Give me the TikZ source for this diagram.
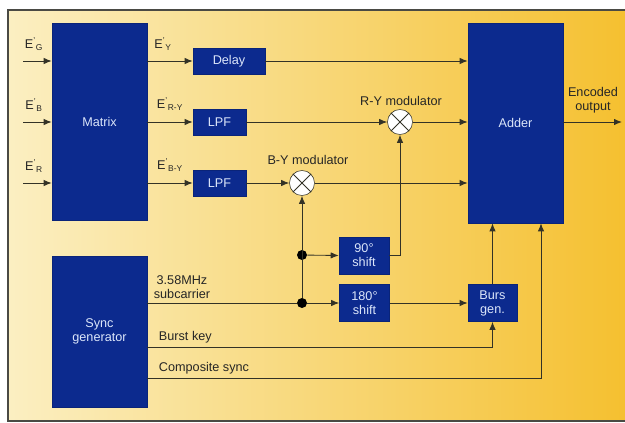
\documentclass[tikz,border=0pt]{standalone}
\usepackage{fontspec}
\setmainfont{Liberation Sans}
\usetikzlibrary{arrows.meta, positioning, calc}
\definecolor{PanelCream}{HTML}{FBEFC2}
\definecolor{PanelMid}{HTML}{F9DC86}
\definecolor{PanelGold}{HTML}{F5C030}
\definecolor{BlockNavy}{HTML}{0C2A8E}
\definecolor{BlockText}{HTML}{DCE6FA}
\definecolor{WireDark}{HTML}{333226}
\definecolor{FrameGrey}{HTML}{4A4A44}
\tikzset{
    % Node styles
    bigblock/.style={
        rectangle,
        fill=BlockNavy,
        draw=BlockNavy!85!black,
        minimum width=2.375cm,
        inner sep=0pt,
        text=BlockText,
        align=center,
        font=\fontsize{9}{10}\selectfont
    },
    smallblock/.style={
        rectangle,
        fill=BlockNavy,
        draw=BlockNavy!85!black,
        minimum height=0.65cm,
        inner sep=0pt,
        text=BlockText,
        align=center,
        font=\fontsize{9}{10}\selectfont
    },
    mixer/.style={
        circle,
        draw=WireDark,
        fill=white,
        minimum size=0.625cm,
        inner sep=0pt
    },
    junction/.style={
        circle,
        fill=black,
        minimum size=0.25cm,
        inner sep=0pt
    },
    sigtext/.style={
        text=black!85,
        align=center,
        font=\fontsize{9}{10}\selectfont
    },
    % Arrow styles
    sigarrow/.style={
        -{Latex[length=2mm,width=1.6mm]},
        WireDark,
        line width=0.6pt
    },
    sigline/.style={
        WireDark,
        line width=0.6pt
    }
}
\begin{document}
\begin{tikzpicture}[x=0.025cm, y=-0.025cm]
    % Panel
    \useasboundingbox (0,0) rectangle (625,422);
    \shade[left color=PanelCream, middle color=PanelMid, right color=PanelGold] (8,10) rectangle (625,421);
    \draw[FrameGrey, line width=0.8pt] (625,10) -- (8,10) -- (8,421) -- (625,421);

    % Blocks
    \node[bigblock, minimum height=4.925cm] (matrixblk) at (99.5,121.5) {Matrix};
    \node[bigblock, minimum height=3.775cm] (syncgen) at (99.5,331.5) {Sync\\generator};
    \node[bigblock, minimum height=5cm] (adder) at (515.5,123) {Adder};
    \node[smallblock, minimum width=1.8cm] (delay) at (229,61) {Delay};
    \node[smallblock, minimum width=1.325cm] (lpfry) at (219.5,122) {LPF};
    \node[smallblock, minimum width=1.325cm] (lpfby) at (219.5,183) {LPF};
    \node[smallblock, minimum width=1.25cm, minimum height=0.925cm] (shiftA) at (364,255.5) {90°\\shift};
    \node[smallblock, minimum width=1.25cm, minimum height=0.925cm] (shiftB) at (364.5,303) {180°\\shift};
    \node[smallblock, minimum width=1.225cm, minimum height=0.925cm] (burst) at (492.5,303) {Burs\\gen.};

    % Modulators
    \node[mixer] (modry) at (400,122) {};
    \node[mixer] (modby) at (302,183) {};
    \foreach \m in {modry, modby}
        \draw[sigline] (\m.north west) -- (\m.south east) (\m.north east) -- (\m.south west);

    % Junctions and free ends
    \node[junction] (jup) at (302,255) {};
    \node[junction] (jlow) at (302,303) {};
    \coordinate (encout) at (622,122);
    \coordinate (bkey) at ($(syncgen.east)+(0,15.5)$);
    \coordinate (csync) at ($(syncgen.east)+(0,46.5)$);
    \coordinate (csyncin) at ($(adder.south)+(25.5,0)$);

    % Inputs
    \foreach \n/\y in {G/61, B/122, R/183} {
        \coordinate (in\n) at (23,\y);
        \draw[sigarrow] (in\n) -- (in\n -| matrixblk.west);
        \node[sigtext] (lbl\n) at (34,\y-17) {E\textsuperscript{'}\textsubscript{\n}};
    }

    % Labels
    \node[sigtext] (lblY) at (163,44) {E\textsuperscript{'}\textsubscript{Y}};
    \node[sigtext] (lblRY) at (170,104) {E\textsuperscript{'}\textsubscript{R-Y}};
    \node[sigtext] (lblBY) at (170,165) {E\textsuperscript{'}\textsubscript{B-Y}};
    \node[sigtext] (lblmodby) at (308,160) {B-Y modulator};
    \node[sigtext] (lblmodry) at (401,101) {R-Y modulator};
    \node[sigtext] (lblout) at (593,100) {Encoded\\output};
    \node[sigtext] (lblsub) at (182,287) {3.58MHz\\subcarrier};
    \node[sigtext, anchor=west] (lblbk) at (154,337) {Burst key};
    \node[sigtext, anchor=west] (lblcs) at (154,368) {Composite sync};

    % Luminance and colour difference paths
    \draw[sigarrow] (delay.west -| matrixblk.east) -- (delay.west);
    \draw[sigarrow] (lpfry.west -| matrixblk.east) -- (lpfry.west);
    \draw[sigarrow] (lpfby.west -| matrixblk.east) -- (lpfby.west);
    \draw[sigarrow] (delay.east) -- (delay.east -| adder.west);
    \draw[sigarrow] (lpfry.east) -- (modry.west);
    \draw[sigarrow] (modry.east) -- (modry.east -| adder.west);
    \draw[sigarrow] (lpfby.east) -- (modby.west);
    \draw[sigarrow] (modby.east) -- (modby.east -| adder.west);
    \draw[sigarrow] (encout -| adder.east) -- (encout);

    % Subcarrier and sync paths
    \draw[sigline] (jlow -| syncgen.east) -- (jlow);
    \draw[sigarrow] (jlow) -- (modby.south);
    \draw[sigarrow] (jup) -- (shiftA.west);
    \draw[sigarrow] (jlow) -- (shiftB.west);
    \draw[sigarrow] (shiftA.east) -| (modry.south);
    \draw[sigarrow] (shiftB.east) -- (burst.west);
    \draw[sigarrow] (burst.north) -- (burst.north |- adder.south);
    \draw[sigarrow] (bkey) -| (burst.south);
    \draw[sigarrow] (csync) -| (csyncin);
\end{tikzpicture}
\end{document}
